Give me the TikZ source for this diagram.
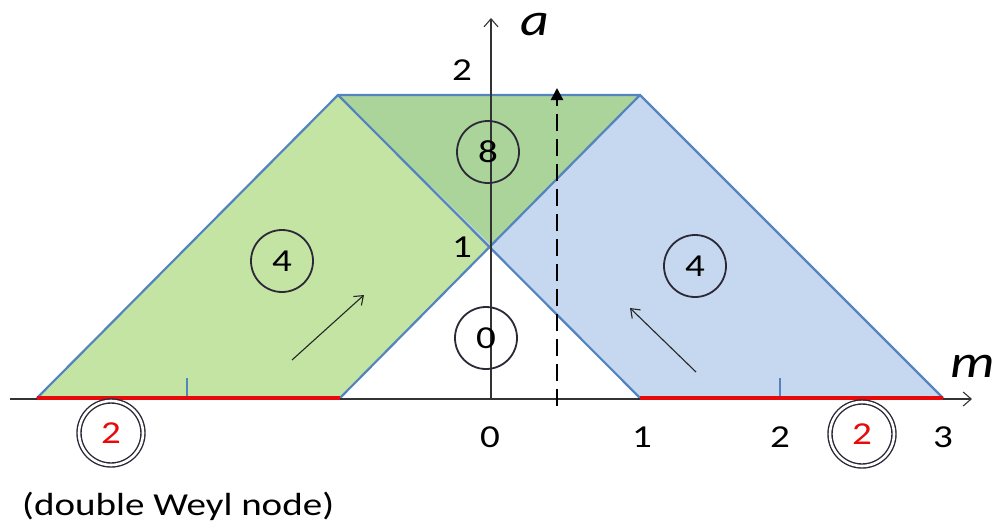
\documentclass[tikz,border=0pt]{standalone}
\usepackage{fontspec}
\setmainfont[FakeStretch=1.22]{Carlito}
\usetikzlibrary{arrows.meta}
\definecolor{lgreen}{RGB}{196,228,164}
\definecolor{lblue}{RGB}{197,216,239}
\definecolor{dgreen}{RGB}{170,212,154}
\definecolor{edge}{RGB}{84,132,190}
\definecolor{redl}{RGB}{232,10,10}
\definecolor{circ}{RGB}{45,40,55}
\begin{document}
\begin{tikzpicture}[x=1pt,y=-1pt,
  lbl/.style={font=\fontsize{32}{32}\selectfont, inner sep=0pt},
  num/.style={circle, draw=circ, line width=1.8pt, minimum size=62pt, inner sep=0pt, font=\fontsize{32}{32}\selectfont},
  dnum/.style={circle, draw=circ, line width=1.4pt, double=white, double distance=2.6pt, minimum size=64pt, inner sep=0pt, font=\fontsize{32}{32}\selectfont, text=redl},
  ax/.style={line width=1.1pt, black!80, -{Straight Barb[length=8pt,width=14pt]}},
  edg/.style={edge, line width=2.2pt},
  mv/.style={line width=1.1pt, black!85, -{Straight Barb[length=8pt,width=12pt]}},
  axl/.style={font=\fontsize{46}{46}\selectfont\itshape, inner sep=0pt, anchor=base}]
\useasboundingbox (0,0) rectangle (997,528);
% coordinates
\coordinate (BL) at (37,398);
\coordinate (BLr) at (340,398);
\coordinate (TL) at (338,95);
\coordinate (TR) at (640,95);
\coordinate (BRl) at (640,398);
\coordinate (BR) at (943,398);
\coordinate (M) at (491,245);
% fills
\fill[lgreen] (BL) -- (BLr) -- (TR) -- (TL) -- cycle;
\fill[lblue] (BRl) -- (BR) -- (TR) -- (TL) -- cycle;
\fill[dgreen] (TL) -- (TR) -- (M) -- cycle;
% edges
\draw[edg] (BL) -- (TL) -- (TR) -- (BR);
\draw[edg] (BLr) -- (TR);
\draw[edg] (TL) -- (BRl);
% ticks
\draw[edge, line width=1.5pt] (187,378) -- (187,397);
\draw[edge, line width=1.5pt] (780,378) -- (780,397);
% axes
\coordinate (mstart) at (10,399);
\coordinate (mend) at (972,399);
\coordinate (astart) at (491,399);
\coordinate (aend) at (491,18);
\draw[ax] (mstart) -- (mend);
\draw[ax] (astart) -- (aend);
% red segments
\draw[redl, line width=4pt] (BL) -- (BLr);
\draw[redl, line width=4pt] (BRl) -- (BR);
% dashed arrow
\coordinate (ds) at (557,406);
\coordinate (de) at (557,88);
\draw[line width=2.4pt, dash pattern=on 17pt off 8pt, -{Triangle[length=12pt,width=12pt]}] (ds) -- (de);
% move arrows
\coordinate (a1s) at (292,360);
\coordinate (a1e) at (364,295);
\coordinate (a2s) at (696,372);
\coordinate (a2e) at (630,308);
\draw[mv] (a1s) -- (a1e);
\draw[mv] (a2s) -- (a2e);
% circled numbers
\node[num] (n8) at (488,152) {8};
\node[num] (n4l) at (282,261) {4};
\node[num] (n4r) at (695,266) {4};
\node[num] (n0) at (486,338) {0};
\node[dnum] (d2l) at (111,433) {2};
\node[dnum] (d2r) at (862,434) {2};
% labels
\node[axl] (la) at (535,35) {a};
\node[axl] (lm) at (973,377) {m};
\node[lbl] (l2a) at (462,70) {2};
\node[lbl] (l1a) at (462,247) {1};
\node[lbl] (l0) at (490,437) {0};
\node[lbl] (l1) at (642,437) {1};
\node[lbl] (l2) at (780,437) {2};
\node[lbl] (l3) at (943,437) {3};
\node[lbl, anchor=west] (dw) at (22,506) {(double Weyl node)};
\end{tikzpicture}
\end{document}
